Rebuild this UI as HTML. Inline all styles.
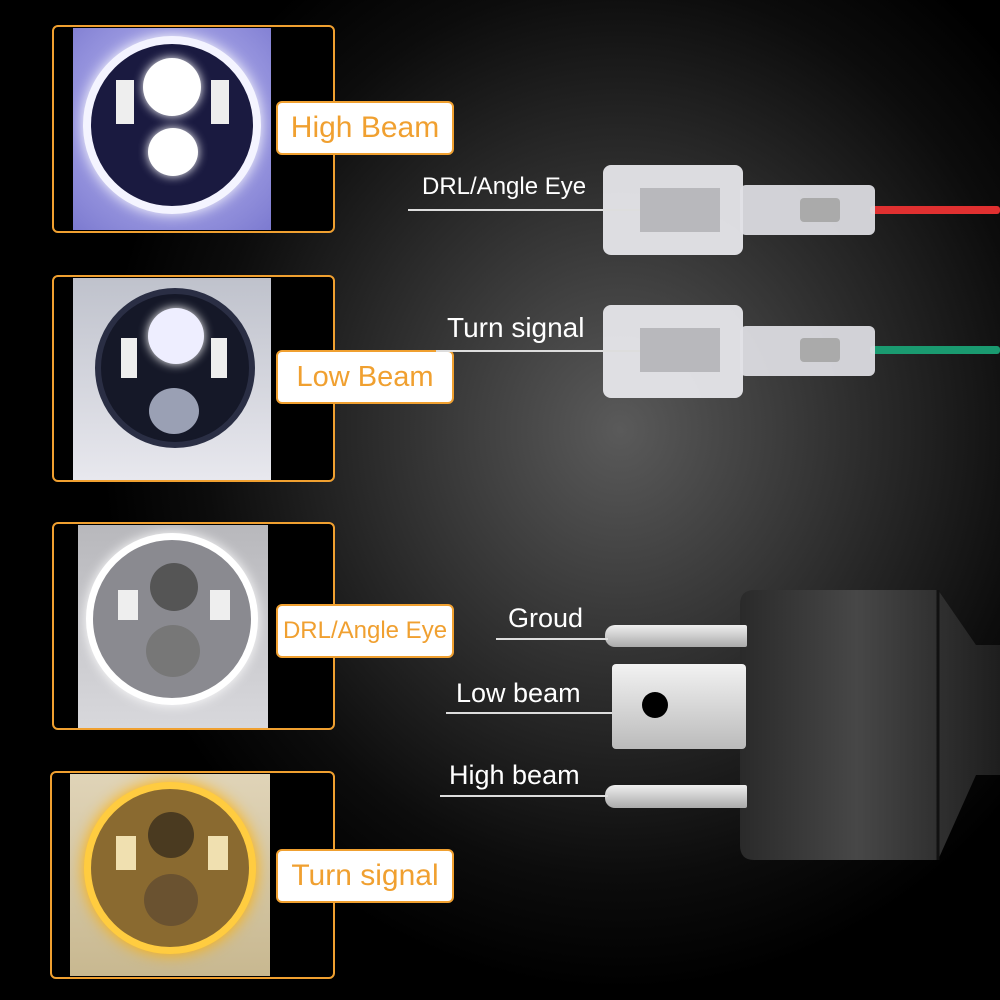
<!DOCTYPE html>
<html><head><meta charset="utf-8"><style>
*{margin:0;padding:0;box-sizing:border-box}
body{width:1000px;height:1000px;overflow:hidden;background:radial-gradient(ellipse 520px 560px at 620px 430px,#5a5a5a 0%,#2e2e2e 45%,#0c0c0c 80%,#000 100%);position:relative;font-family:"Liberation Sans",sans-serif}
.box{position:absolute;border:2px solid #f0a030;border-radius:6px;background:#000}
.photo{position:absolute;overflow:hidden}
.lamp{position:absolute;border-radius:50%}
.tag{position:absolute;left:276px;width:178px;height:54px;background:#fff;border:2px solid #f0a030;border-radius:6px;color:#f0a030;font-size:30px;display:flex;align-items:center;justify-content:center;white-space:nowrap}
.lbl{position:absolute;color:#fff;white-space:nowrap}
.ln{position:absolute;height:1.5px;background:#ddd}
.abs{position:absolute}
</style></head><body>

<div class="box" style="left:52px;top:25px;width:283px;height:208px"></div>
<div class="photo" style="left:73px;top:28px;width:198px;height:202px;background:radial-gradient(circle at 50% 45%,#e8e8ff 0%,#9a98e0 60%,#7c7ad0 100%)">
 <div class="lamp" style="left:10px;top:8px;width:178px;height:178px;background:#1a1a40;border:8px solid #f4f4ff;box-shadow:0 0 14px #fff"></div>
 <div class="lamp" style="left:70px;top:30px;width:58px;height:58px;background:#fff;box-shadow:0 0 10px #fff"></div>
 <div class="lamp" style="left:75px;top:100px;width:50px;height:48px;background:#fff;box-shadow:0 0 10px #fff"></div>
 <div class="abs" style="left:43px;top:52px;width:18px;height:44px;background:#eee"></div>
 <div class="abs" style="left:138px;top:52px;width:18px;height:44px;background:#eee"></div>
</div>
<div class="tag" style="top:101px">High Beam</div>

<div class="box" style="left:52px;top:275px;width:283px;height:207px"></div>
<div class="photo" style="left:73px;top:278px;width:198px;height:202px;background:linear-gradient(#bfc2cc,#e8e8ee)">
 <div class="lamp" style="left:22px;top:10px;width:160px;height:160px;background:#151828;border:6px solid #2a2e44"></div>
 <div class="lamp" style="left:75px;top:30px;width:56px;height:56px;background:#eef;box-shadow:0 0 10px #fff"></div>
 <div class="lamp" style="left:76px;top:110px;width:50px;height:46px;background:#9aa0b4"></div>
 <div class="abs" style="left:48px;top:60px;width:16px;height:40px;background:#eee"></div>
 <div class="abs" style="left:138px;top:60px;width:16px;height:40px;background:#eee"></div>
</div>
<div class="tag" style="top:350px;font-size:29px">Low Beam</div>

<div class="box" style="left:52px;top:522px;width:283px;height:208px"></div>
<div class="photo" style="left:78px;top:525px;width:190px;height:203px;background:linear-gradient(#b8b8bc,#d8d8dc)">
 <div class="lamp" style="left:8px;top:8px;width:172px;height:172px;background:#8a8a90;border:7px solid #fff;box-shadow:0 0 12px #fff"></div>
 <div class="lamp" style="left:72px;top:38px;width:48px;height:48px;background:#555"></div>
 <div class="lamp" style="left:68px;top:100px;width:54px;height:52px;background:#777"></div>
 <div class="abs" style="left:40px;top:65px;width:20px;height:30px;background:#eee"></div>
 <div class="abs" style="left:132px;top:65px;width:20px;height:30px;background:#eee"></div>
</div>
<div class="tag" style="top:604px;font-size:24px">DRL/Angle Eye</div>

<div class="box" style="left:50px;top:771px;width:285px;height:208px"></div>
<div class="photo" style="left:70px;top:774px;width:200px;height:202px;background:linear-gradient(#e0d4b8,#c8b890)">
 <div class="lamp" style="left:14px;top:8px;width:172px;height:172px;background:#8a6a30;border:7px solid #ffcc40;box-shadow:0 0 16px #ffb000"></div>
 <div class="lamp" style="left:78px;top:38px;width:46px;height:46px;background:#4a3a20"></div>
 <div class="lamp" style="left:74px;top:100px;width:54px;height:52px;background:#6a5230"></div>
 <div class="abs" style="left:46px;top:62px;width:20px;height:34px;background:#f0e0b0"></div>
 <div class="abs" style="left:138px;top:62px;width:20px;height:34px;background:#f0e0b0"></div>
</div>
<div class="tag" style="top:849px">Turn signal</div>

<div class="abs" style="left:870px;top:206px;width:130px;height:8px;background:#e03030;border-radius:3px"></div>
<div class="abs" style="left:603px;top:165px;width:140px;height:90px;background:rgba(235,235,240,.92);border-radius:8px"></div>
<div class="abs" style="left:740px;top:185px;width:135px;height:50px;background:rgba(225,225,230,.92);border-radius:6px"></div>
<div class="abs" style="left:640px;top:188px;width:80px;height:44px;background:#b8b8bc"></div>
<div class="abs" style="left:800px;top:198px;width:40px;height:24px;background:#aaa;border-radius:4px"></div>
<div class="lbl" style="left:422px;top:173px;font-size:24px">DRL/Angle Eye</div>
<div class="ln" style="left:408px;top:209px;width:232px"></div>

<div class="abs" style="left:870px;top:346px;width:130px;height:8px;background:#1a9a70;border-radius:3px"></div>
<div class="abs" style="left:603px;top:305px;width:140px;height:93px;background:rgba(235,235,240,.92);border-radius:8px"></div>
<div class="abs" style="left:740px;top:326px;width:135px;height:50px;background:rgba(225,225,230,.92);border-radius:6px"></div>
<div class="abs" style="left:640px;top:328px;width:80px;height:44px;background:#b8b8bc"></div>
<div class="abs" style="left:800px;top:338px;width:40px;height:24px;background:#aaa;border-radius:4px"></div>
<div class="lbl" style="left:447px;top:312px;font-size:28px">Turn signal</div>
<div class="ln" style="left:436px;top:350px;width:204px"></div>

<svg class="abs" style="left:738px;top:585px" width="262" height="280">
 <defs><linearGradient id="g" x1="0" x2="1"><stop offset="0" stop-color="#2a2a2a"/><stop offset=".45" stop-color="#474747"/><stop offset="1" stop-color="#1e1e1e"/></linearGradient></defs>
 <path d="M16 5 H200 L238 60 H262 V190 H238 L200 275 H16 Q2 275 2 260 V20 Q2 5 16 5Z" fill="url(#g)"/>
 <path d="M200 5 L200 275" stroke="#111" stroke-width="3"/>
</svg>
<div class="abs" style="left:605px;top:625px;width:142px;height:22px;background:linear-gradient(#eee,#aaa);border-radius:10px 2px 2px 10px"></div>
<div class="abs" style="left:612px;top:664px;width:134px;height:85px;background:linear-gradient(#f2f2f2,#bbb);border-radius:4px"></div>
<div class="abs" style="left:642px;top:692px;width:26px;height:26px;background:#000;border-radius:50%"></div>
<div class="abs" style="left:605px;top:785px;width:142px;height:23px;background:linear-gradient(#eee,#aaa);border-radius:10px 2px 2px 10px"></div>
<div class="lbl" style="left:508px;top:603px;font-size:27px">Groud</div>
<div class="ln" style="left:496px;top:638px;width:112px"></div>
<div class="lbl" style="left:456px;top:678px;font-size:27px">Low beam</div>
<div class="ln" style="left:446px;top:712px;width:166px"></div>
<div class="lbl" style="left:449px;top:760px;font-size:27px">High beam</div>
<div class="ln" style="left:440px;top:795px;width:168px"></div>
</body></html>
